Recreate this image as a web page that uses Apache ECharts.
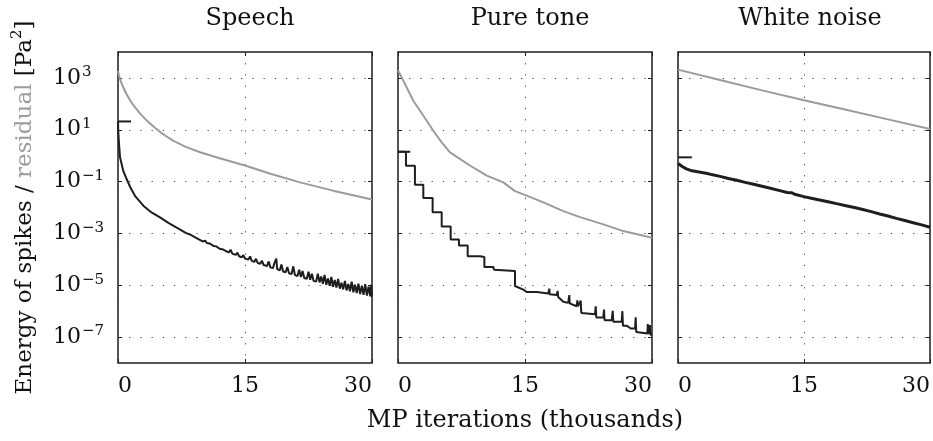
<!DOCTYPE html>
<html>
<head>
    <meta charset="utf-8">
    <style type="text/css">
        *, html, body { margin: 0; padding: 0; }
        html, body, #container { width: 933px; height: 441px; background: #fff; }
    </style>
    <script type="text/javascript" src="https://cdn.jsdelivr.net/npm/echarts@6/dist/echarts.min.js"></script>
</head>
<body>
<div id="container"></div>
<script type="text/javascript">
    // all energies are stored as log10 exponents, x in thousands of MP iterations
    const titles = ['Speech', 'Pure tone', 'White noise'];
    const xTicks = [0, 15, 30];
    const yTicks = [-7, -5, -3, -1, 1, 3];

    // short mark at the first spike energy (x0, x1, value)
    const firstMarks = [[0, 1.54, 1.32], [0, 1.45, 0.15], [0, 1.65, -0.065]];

    const speechResidual = [[0, 3.27], [0.15, 3.05], [0.3, 2.9], [0.63, 2.63], [1.0, 2.38], [1.42, 2.14],
        [2.0, 1.87], [2.6, 1.63], [3.2, 1.42], [3.78, 1.24], [4.4, 1.07], [4.96, 0.92], [5.7, 0.75],
        [6.5, 0.58], [8, 0.34], [9.7, 0.13], [12, -0.1], [15, -0.38], [18, -0.7], [21.5, -1.03],
        [25.4, -1.35], [30, -1.69]];

    const speechSpikes = [[0, 1.32], [0.03, 0.95], [0.1, 0.55], [0.24, -0.06], [0.63, -0.6], [1.02, -0.9],
        [1.42, -1.2], [2.0, -1.55], [2.99, -1.93], [4.0, -2.2], [4.96, -2.38], [6.0, -2.6], [6.93, -2.78],
        [8.0, -2.98], [8.5, -3.04], [9.0, -3.13], [9.5, -3.22], [10, -3.31], [10.3, -3.28], [10.5, -3.37],
        [10.9, -3.40], [11.1, -3.38], [11.3, -3.49], [11.6, -3.50], [11.8, -3.44], [12.0, -3.59],
        [12.4, -3.62], [12.6, -3.55], [12.8, -3.69], [13.1, -3.73], [13.3, -3.63], [13.5, -3.78],
        [13.9, -3.83], [14.1, -3.74], [14.3, -3.88], [14.6, -3.92], [14.8, -3.84], [15.0, -3.97],
        [15.4, -4.01], [15.6, -3.89], [15.8, -4.06], [16.1, -4.10], [16.3, -3.98], [16.5, -4.14],
        [16.8, -4.17], [17.0, -4.05], [17.2, -4.22], [17.6, -4.26], [17.8, -4.08], [18.0, -4.31],
        [18.3, -4.34], [18.5, -4.12], [18.7, -3.97], [18.8, -4.38], [19.1, -4.43], [19.3, -4.20],
        [19.5, -4.47], [19.8, -4.50], [20.0, -4.30], [20.2, -4.54], [20.5, -4.57], [20.7, -4.27],
        [20.9, -4.61], [21.2, -4.64], [21.4, -4.40], [21.6, -4.68], [21.8, -4.45], [22.0, -4.72],
        [22.3, -4.75], [22.5, -4.48], [22.7, -4.79], [22.9, -4.56], [23.1, -4.83], [23.4, -4.86],
        [23.6, -4.55], [23.8, -4.89], [24.0, -4.66], [24.2, -4.94], [24.4, -4.60], [24.6, -4.98],
        [24.8, -4.74], [25.0, -5.02], [25.2, -4.68], [25.4, -5.06], [25.6, -4.80], [25.8, -5.09],
        [26.0, -4.76], [26.2, -5.13], [26.4, -4.90], [26.6, -5.16], [26.8, -4.83], [27.0, -5.20],
        [27.2, -4.95], [27.4, -5.23], [27.6, -4.86], [27.8, -5.27], [28.0, -4.98], [28.2, -5.30],
        [28.4, -4.94], [28.6, -5.34], [28.8, -5.02], [29.0, -5.37], [29.2, -4.96], [29.4, -5.40],
        [29.6, -5.05], [29.8, -5.43], [29.9, -4.98], [30, -5.45]];

    const toneResidual = [[0, 3.30], [0.83, 2.76], [1.81, 2.12], [3.0, 1.54], [4.17, 0.96], [5.16, 0.51],
        [6.14, 0.13], [8.5, -0.38], [10.48, -0.77], [12.44, -1.03], [13.82, -1.37], [15.2, -1.54],
        [17.17, -1.80], [19.53, -2.14], [21.5, -2.37], [24.25, -2.65], [26.61, -2.91], [30, -3.17]];

    const toneSpikes = [[0, 0.15], [0.94, 0.15], [0.94, -0.39], [2.0, -0.39], [2.0, -1.12], [2.99, -1.12],
        [2.99, -1.63], [4.09, -1.63], [4.09, -2.18], [5.16, -2.18], [5.16, -2.73], [6.22, -2.73],
        [6.22, -3.23], [7.2, -3.23], [7.2, -3.47], [8.23, -3.47], [8.23, -3.88], [9.69, -3.88],
        [9.69, -3.91], [10.2, -3.91], [10.2, -4.30], [11.26, -4.30], [11.3, -4.23], [11.35, -4.40],
        [11.4, -4.45], [13.82, -4.45], [13.82, -5.03], [14.8, -5.17], [15.2, -5.26], [16.38, -5.26],
        [16.4, -5.20], [16.57, -5.30], [17.75, -5.32], [17.87, -5.13], [17.92, -5.35], [18.74, -5.38],
        [18.86, -5.22], [18.92, -5.45], [19.53, -5.64], [20.1, -5.68], [20.23, -5.38], [20.28, -5.70],
        [21.1, -5.81], [21.18, -5.58], [21.25, -5.81], [21.58, -5.60], [21.65, -6.07], [23.27, -6.12],
        [23.35, -5.81], [23.42, -6.24], [24.25, -6.24], [24.33, -5.94], [24.4, -6.35], [25.24, -6.35],
        [25.36, -5.99], [25.43, -6.41], [26.42, -6.41], [26.5, -6.0], [26.57, -6.56], [27.0, -6.56],
        [27.5, -6.67], [28.0, -6.67], [28.07, -6.24], [28.14, -6.80], [29.45, -6.86], [29.5, -6.5],
        [29.57, -6.88], [29.76, -6.54], [29.82, -6.90], [30, -6.92]];

    const noiseResidual = [[0, 3.32], [5, 2.92], [10, 2.52], [15, 2.14], [20, 1.77], [25, 1.40], [30, 1.03]];

    const noiseSpikes = [[0, -0.30], [0.5, -0.42], [1, -0.51], [1.5, -0.57], [2, -0.60], [2.5, -0.63],
        [3, -0.66], [3.5, -0.69], [4, -0.73], [5, -0.80], [6, -0.88], [7, -0.95], [8, -1.03], [9, -1.10],
        [10, -1.18], [11, -1.26], [12, -1.34], [13, -1.42], [13.5, -1.43], [14, -1.50], [15, -1.58],
        [16, -1.65], [17, -1.72], [18, -1.79], [19, -1.86], [20, -1.93], [21, -2.00], [22, -2.08],
        [23, -2.16], [24, -2.25], [25, -2.33], [26, -2.42], [27, -2.50], [28, -2.59], [29, -2.67], [30, -2.76]];

    const residuals = [speechResidual, toneResidual, noiseResidual];
    const spikes = [speechSpikes, toneSpikes, noiseSpikes];

    const panelLeft = [118, 398, 678];
    const panelWidth = 254;
    const panelTop = 52;
    const panelHeight = 311;
    const serif = 'DejaVu Serif';
    const black = '#1e1e1e';
    const grey = '#9b9b9b';
    const dotted = {color: '#444', width: 1, type: [1.2, 10]};

    function supLabel(v) {
        const s = v < 0 ? '\u2212' + Math.abs(v) : String(v);
        return '{b|10}{s|' + s + '}';
    }

    let grids = [], xAxes = [], yAxes = [], series = [], titleList = [];
    for (let i = 0; i < 3; i++) {
        grids.push({
            left: panelLeft[i], top: panelTop, width: panelWidth, height: panelHeight,
            show: true, borderColor: '#1e1e1e', borderWidth: 1.5, backgroundColor: '#fff'
        });
        titleList.push({
            text: titles[i], left: panelLeft[i] + panelWidth / 2, top: 2, textAlign: 'center',
            textStyle: {fontFamily: serif, fontSize: 24, fontWeight: 'normal', color: '#111'}
        });
        // bottom x axis with labels
        xAxes.push({
            type: 'value', gridIndex: i, min: 0, max: 30, interval: 15, position: 'bottom',
            axisLine: {show: false, onZero: false},
            axisTick: {show: true, inside: true, length: 4, lineStyle: {color: black}},
            axisLabel: {
                show: true, margin: 12, fontFamily: serif, fontSize: 22, color: '#111',
                alignMinLabel: 'left', alignMaxLabel: 'right'
            },
            splitLine: {show: true, lineStyle: dotted},
            name: i === 1 ? 'MP iterations (thousands)' : '',
            nameLocation: 'middle', nameGap: 46,
            nameTextStyle: {fontFamily: serif, fontSize: 24, color: '#111'}
        });
        // top mirror axis, ticks only
        xAxes.push({
            type: 'value', gridIndex: i, min: 0, max: 30, interval: 15, position: 'top',
            axisLine: {show: false, onZero: false}, axisLabel: {show: false}, splitLine: {show: false},
            axisTick: {show: true, inside: true, length: 4, lineStyle: {color: black}}
        });
        yAxes.push({
            type: 'value', gridIndex: i, min: -8, max: 4, position: 'left',
            axisLine: {show: false, onZero: false},
            axisTick: {show: true, inside: true, length: 4, customValues: yTicks, lineStyle: {color: black}},
            axisLabel: {
                show: i === 0, customValues: yTicks, margin: 65, align: 'left',
                formatter: supLabel,
                rich: {
                    b: {fontFamily: serif, fontSize: 22, color: '#111', lineHeight: 26},
                    s: {fontFamily: serif, fontSize: 15, color: '#111', verticalAlign: 'top', lineHeight: 26, padding: [0, 0, 10, 1]}
                }
            },
            splitLine: {show: true, lineStyle: dotted},
            name: i === 0 ? '{a|Energy of spikes / }{g|residual}{a| [Pa}{s|2}{a|]}' : '',
            nameLocation: 'middle', nameGap: 78,
            nameTextStyle: {
                rich: {
                    a: {fontFamily: serif, fontSize: 23, color: '#111', lineHeight: 30},
                    g: {fontFamily: serif, fontSize: 23, color: grey, lineHeight: 30},
                    s: {fontFamily: serif, fontSize: 15, color: '#111', verticalAlign: 'top', lineHeight: 30, padding: [0, 0, 12, 0]}
                }
            }
        });
        // right mirror axis, ticks only
        yAxes.push({
            type: 'value', gridIndex: i, min: -8, max: 4, position: 'right',
            axisLine: {show: false, onZero: false}, axisLabel: {show: false}, splitLine: {show: false},
            axisTick: {show: true, inside: true, length: 4, customValues: yTicks, lineStyle: {color: black}}
        });

        series.push({
            type: 'line', xAxisIndex: 2 * i, yAxisIndex: 2 * i, data: residuals[i],
            showSymbol: false, silent: true, lineStyle: {color: grey, width: 2}, z: 3
        });
        series.push({
            type: 'line', xAxisIndex: 2 * i, yAxisIndex: 2 * i, data: spikes[i],
            showSymbol: false, silent: true, lineStyle: {color: black, width: i === 2 ? 3 : 2}, z: 4
        });
        series.push({
            type: 'line', xAxisIndex: 2 * i, yAxisIndex: 2 * i,
            data: [[firstMarks[i][0], firstMarks[i][2]], [firstMarks[i][1], firstMarks[i][2]]],
            showSymbol: false, silent: true, lineStyle: {color: black, width: 2}, z: 4
        });
    }

    const myChart = echarts.init(document.getElementById('container'), null, {renderer: 'canvas'});
    myChart.setOption({
        animation: false,
        backgroundColor: '#fff',
        title: titleList,
        grid: grids,
        xAxis: xAxes,
        yAxis: yAxes,
        series: series
    });
</script>
</body>
</html>
